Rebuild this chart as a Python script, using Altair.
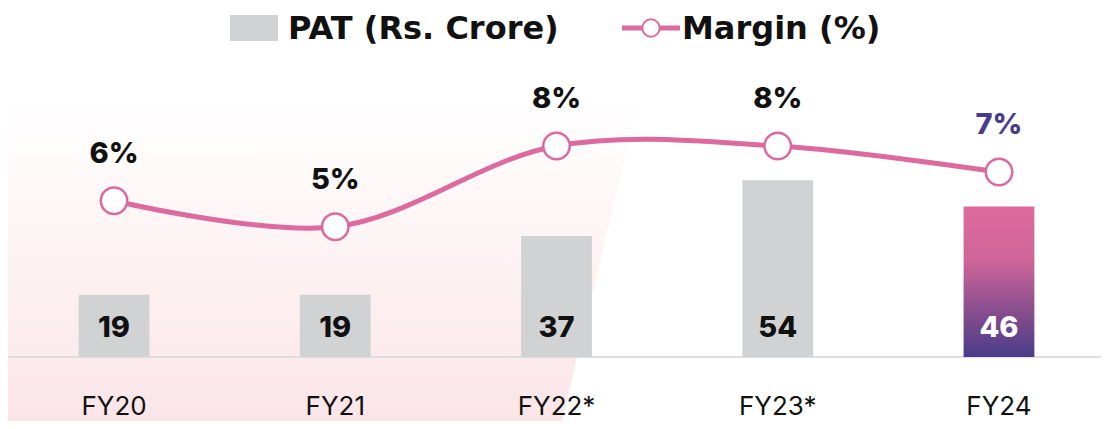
import altair as alt
import pandas as pd

years = ["FY20", "FY21", "FY22*", "FY23*", "FY24"]
pat = [19, 19, 37, 54, 46]
pat_labels = ["19", "19", "37", "54", "46"]
margin = [6.0, 5.0, 8.1, 8.1, 7.1]
margin_labels = ["6%", "5%", "8%", "8%", "7%"]
legend_labels = ["PAT (Rs. Crore)", "Margin (%)"]
bg_x = [631, 552]
bg_y = [90, 421]

df = pd.DataFrame({"year": years, "pat": pat, "plabel": pat_labels,
                   "margin": margin, "mlabel": margin_labels})
bg = pd.DataFrame({"bx": bg_x, "by": bg_y})
leg = pd.DataFrame({"label": legend_labels})

FONT = "Inter"
LEGFONT = "DejaVu Sans"
PINK = "#dc6a9e"
PURPLE = "#4a3c8b"
GREY = "#d1d2d4"

xscale = alt.Scale(domain=years, range=[-4.6, 1101.6], paddingInner=0.68, paddingOuter=0.34)
X = alt.X("year:N", sort=years, axis=None, scale=xscale)
ybar_scale = alt.Scale(domain=[0, 106.7], nice=False, zero=False)
yline_scale = alt.Scale(domain=[0, 13.4], nice=False, zero=False)
Ybar = alt.Y("pat:Q", axis=None, scale=ybar_scale)
Ybase = alt.Y(datum=0, type="quantitative", axis=None, scale=ybar_scale)
Yline = alt.Y("margin:Q", axis=None, scale=yline_scale)

background = alt.Chart(bg).mark_area(
    orient="horizontal",
    fill=alt.Gradient(gradient="linear", x1=0, y1=0, x2=0, y2=1,
                      stops=[alt.GradientStop(color="#ffffff", offset=0),
                             alt.GradientStop(color="#fdf2f3", offset=0.5),
                             alt.GradientStop(color="#fbe4e7", offset=1)]),
).encode(
    x=alt.X("bx:Q", scale=None, axis=None),
    x2=alt.value(0),
    y=alt.Y("by:Q", scale=None, axis=None),
)

baseline = alt.Chart(df).mark_rule(color="#dedede", strokeWidth=2).encode(
    y=Ybase, x=alt.value(0), x2=alt.value(1093)
)

bars_grey = alt.Chart(df).transform_filter(alt.datum.year != "FY24").mark_bar(
    color=GREY
).encode(x=X, y=Ybar, y2=alt.Y2(datum=0))

bars_grad = alt.Chart(df).transform_filter(alt.datum.year == "FY24").mark_bar(
    fill=alt.Gradient(gradient="linear", x1=0, y1=0, x2=0, y2=1,
                      stops=[alt.GradientStop(color="#de6a9c", offset=0),
                             alt.GradientStop(color="#cf6599", offset=0.35),
                             alt.GradientStop(color="#7d4a8c", offset=0.75),
                             alt.GradientStop(color="#4a3c89", offset=1)])
).encode(x=X, y=Ybar, y2=alt.Y2(datum=0))

bar_labels = alt.Chart(df).mark_text(
    font=FONT, fontSize=29, fontWeight=800, baseline="middle", dy=-29
).encode(
    x=X, y=Ybase, text="plabel:N",
    color=alt.condition(alt.datum.year == "FY24", alt.value("#ffffff"), alt.value("#111111")),
)

x_labels = alt.Chart(df).mark_text(
    font=FONT, fontSize=26, baseline="middle", dy=50, color="#111111"
).encode(x=X, y=Ybase, text="year:N")

line = alt.Chart(df).mark_line(
    color=PINK, strokeWidth=5, interpolate="catmull-rom"
).encode(x=X, y=Yline)

points = alt.Chart(df).mark_point(
    filled=True, fill="white", stroke=PINK, strokeWidth=2.5, size=700, opacity=1, shape="circle"
).encode(x=X, y=Yline)

margin_text = alt.Chart(df).mark_text(
    font=FONT, fontSize=29, fontWeight=800, baseline="middle", dy=-47
).encode(
    x=X, y=Yline, text="mlabel:N",
    color=alt.condition(alt.datum.year == "FY24", alt.value(PURPLE), alt.value("#111111")),
)

# legend
leg_rect = alt.Chart(leg).transform_filter(alt.datum.label == legend_labels[0]).mark_rect(
    color=GREY
).encode(x=alt.value(222), x2=alt.value(270), y=alt.value(7), y2=alt.value(33))
leg_text1 = alt.Chart(leg).transform_filter(alt.datum.label == legend_labels[0]).mark_text(
    font=LEGFONT, fontSize=32, fontWeight="bold", align="left", baseline="middle", color="#111111"
).encode(x=alt.value(280), y=alt.value(21), text="label:N")
leg_line = alt.Chart(leg).transform_filter(alt.datum.label == legend_labels[1]).mark_rule(
    color=PINK, strokeWidth=5
).encode(x=alt.value(614), x2=alt.value(672), y=alt.value(20))
leg_pt = alt.Chart(leg).transform_filter(alt.datum.label == legend_labels[1]).mark_point(
    filled=True, fill="white", stroke=PINK, strokeWidth=2, size=300, opacity=1, shape="circle"
).encode(x=alt.value(643), y=alt.value(20))
leg_text2 = alt.Chart(leg).transform_filter(alt.datum.label == legend_labels[1]).mark_text(
    font=LEGFONT, fontSize=32, fontWeight="bold", align="left", baseline="middle", color="#111111"
).encode(x=alt.value(674), y=alt.value(21), text="label:N")

chart = alt.layer(
    background, baseline, bars_grey, bars_grad, bar_labels, x_labels,
    line, points, margin_text,
    leg_rect, leg_text1, leg_line, leg_pt, leg_text2,
).resolve_scale(x="independent", y="independent", color="independent").properties(
    width=1093, height=349,
    padding={"left": 0, "top": 0, "right": 0, "bottom": 64},
    autosize=alt.AutoSizeParams(type="none"),
    background="white",
).configure_view(stroke=None)

chart.save("out.html", embed_options={"renderer": "svg", "actions": False})
